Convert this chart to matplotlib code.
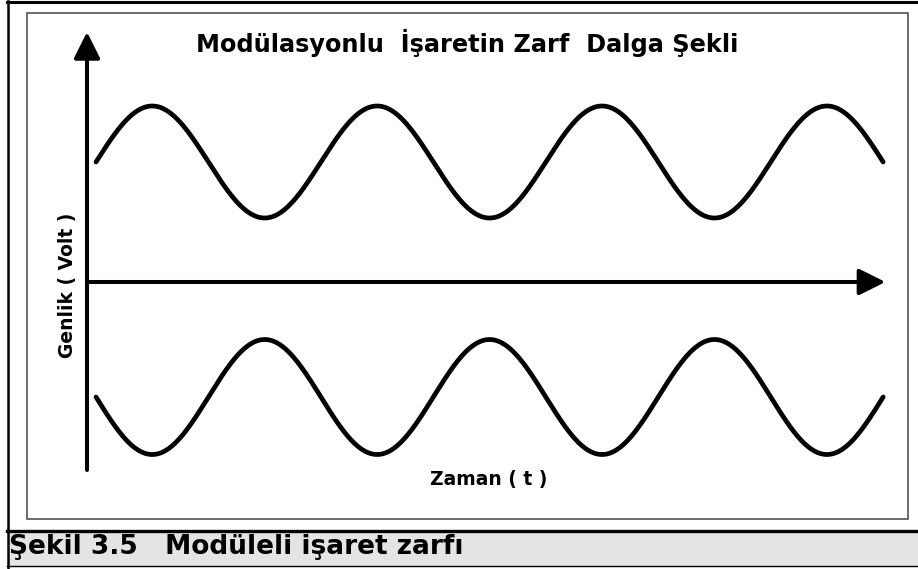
import matplotlib.pyplot as plt
import numpy as np
from matplotlib.lines import Line2D
from matplotlib.patches import Rectangle

# envelope of the modulated signal (arbitrary units, one period = 1)
n_periods = 3.5
upper_level = 1.20      # centre of the upper envelope (V)
lower_level = -1.15     # centre of the lower envelope (V)
upper_amp = 0.56
lower_amp = 0.575

title = 'Modülasyonlu  İşaretin Zarf  Dalga Şekli'
xlabel = 'Zaman ( t )'
ylabel = 'Genlik ( Volt )'
caption = 'Şekil 3.5   Modüleli işaret zarfı'

W, H = 918, 569


def fx(x):
    return x / W


def fy(y):
    return 1 - y / H


fig = plt.figure(figsize=(W / 100, H / 100), dpi=100)
fig.patch.set_facecolor('white')
plt.rcParams['font.family'] = ['DejaVu Sans']

ax = fig.add_axes([0, 0, 1, 1])
ax.axis('off')
# data limits chosen so that one period spans ~225 px and 1 V ~100 px
ax.set_xlim(-96 / 224.9, (W - 96) / 224.9)
ax.set_ylim(-(H - 282) / 100, 282 / 100)

t = np.linspace(0, n_periods, 800)
upper = upper_level + upper_amp * np.sin(2 * np.pi * t)
lower = lower_level - lower_amp * np.sin(2 * np.pi * t)
ax.plot(t, upper, color='black', lw=3.4, solid_capstyle='round')
ax.plot(t, lower, color='black', lw=3.4, solid_capstyle='round')

# axes drawn as arrows
axis_x = -0.04
arrow = dict(arrowstyle='-|>,head_length=16,head_width=8', color='black',
             lw=2.9, shrinkA=0, shrinkB=0, mutation_scale=1)
ax.annotate('', xy=(axis_x, 2.50), xytext=(axis_x, -1.88), arrowprops=arrow)
ax.annotate('', xy=(3.51, 0), xytext=(axis_x, 0), arrowprops=arrow)

# labels
fig.text(fx(467), fy(52), title, ha='center', va='baseline',
         fontsize=17.3, fontweight='bold')
fig.text(fx(489), fy(485), xlabel, ha='center', va='baseline',
         fontsize=13.5, fontweight='bold')
fig.text(fx(68), fy(285), ylabel, ha='center', va='center', rotation=90,
         fontsize=13.5, fontweight='bold')

# inner frame around the drawing
fig.add_artist(Rectangle((fx(27), fy(519)), fx(908) - fx(27), fy(13) - fy(519),
                         transform=fig.transFigure, fill=False,
                         edgecolor='#444444', lw=1.1))

# outer frame and caption bar
fig.add_artist(Rectangle((fx(8), fy(566)), 1 - fx(8), fy(531) - fy(566),
                         transform=fig.transFigure, facecolor='#e4e4e4',
                         edgecolor='none'))
fig.add_artist(Line2D([fx(7), fx(916)], [fy(2), fy(2)], transform=fig.transFigure,
                      color='black', lw=2.2))
fig.add_artist(Line2D([fx(8), fx(8)], [fy(1), fy(569)], transform=fig.transFigure,
                      color='black', lw=1.8))
fig.add_artist(Line2D([fx(7), 1], [fy(531), fy(531)], transform=fig.transFigure,
                      color='black', lw=2.4))
fig.add_artist(Line2D([fx(7), 1], [fy(566), fy(566)], transform=fig.transFigure,
                      color='black', lw=1.0))
fig.text(fx(9), fy(554), caption, ha='left', va='baseline',
         fontsize=19, fontweight='bold')

fig.savefig('out.png', dpi=100)
